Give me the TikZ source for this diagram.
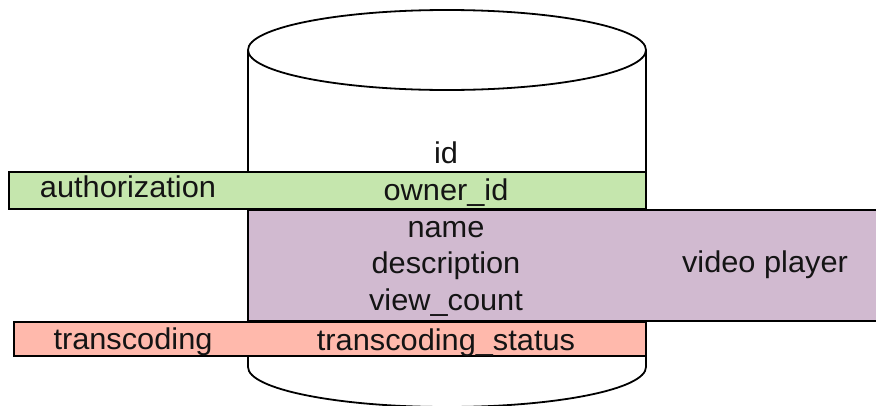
\documentclass[tikz,border=0pt]{standalone}
\usepackage{fontspec}
\setmainfont[FakeStretch=1.025]{Liberation Sans}
\definecolor{authgreen}{RGB}{197,230,173}
\definecolor{playerpurple}{RGB}{209,186,208}
\definecolor{transred}{RGB}{255,185,172}
\definecolor{inkgray}{RGB}{20,20,20}
\tikzset{
  outline/.style={draw=black, line width=1.8pt},
  bar/.style={outline, rectangle, inner sep=0pt},
  label/.style={anchor=base, inner sep=0pt, text=inkgray,
    font=\fontsize{30}{36}\selectfont},
}
\begin{document}
\begin{tikzpicture}[x=1pt, y=-1pt]
\useasboundingbox (0,0) rectangle (876,405);
\clip (0,0) rectangle (876,405);

% database cylinder
\draw[outline] (447,50) ellipse [x radius=199pt, y radius=40pt];
\draw[outline] (248,50) -- (248,367)
  arc[start angle=180, end angle=360, x radius=199pt, y radius=40pt]
  -- (646,50);

% column groups
\node[bar, fill=authgreen, minimum width=637pt, minimum height=37pt]
  (auth) at (327.5,190.5) {};
\node[bar, fill=playerpurple, minimum width=630pt, minimum height=111pt]
  (player) at (563,265.5) {};
\node[bar, fill=transred, minimum width=632pt, minimum height=34pt]
  (trans) at (330,339) {};

% column names
\node[label] (id) at (446,163) {id};
\node[label] (owner) at (446,200) {owner\_id};
\node[label] (name) at (446,237) {name};
\node[label] (desc) at (446,273) {description};
\node[label] (views) at (446,310) {view\_count};
\node[label] (status) at (446,350) {transcoding\_status};

% consumers
\node[label] (authlbl) at (128,197) {authorization};
\node[label] (playerlbl) at (765,272) {video player};
\node[label] (translbl) at (133,349) {transcoding};
\end{tikzpicture}
\end{document}
